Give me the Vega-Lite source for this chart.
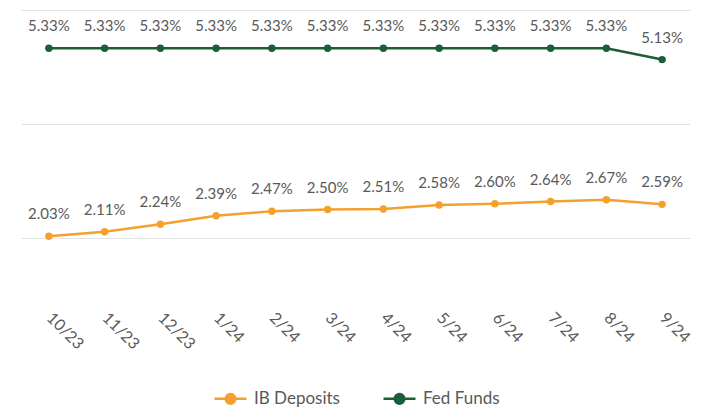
{
  "$schema": "https://vega.github.io/schema/vega-lite/v6.json",
  "width": 669,
  "height": 285,
  "autosize": "none",
  "padding": {"left": 21, "top": 10, "right": 11, "bottom": 115},
  "background": "white",
  "config": {"view": {"stroke": null}, "font": "Lato"},
  "data": {
    "values": [
      {"month": "10/23", "series": "IB Deposits", "rate": 0.0203},
      {"month": "11/23", "series": "IB Deposits", "rate": 0.0211},
      {"month": "12/23", "series": "IB Deposits", "rate": 0.0224},
      {"month": "1/24", "series": "IB Deposits", "rate": 0.0239},
      {"month": "2/24", "series": "IB Deposits", "rate": 0.0247},
      {"month": "3/24", "series": "IB Deposits", "rate": 0.0250},
      {"month": "4/24", "series": "IB Deposits", "rate": 0.0251},
      {"month": "5/24", "series": "IB Deposits", "rate": 0.0258},
      {"month": "6/24", "series": "IB Deposits", "rate": 0.0260},
      {"month": "7/24", "series": "IB Deposits", "rate": 0.0264},
      {"month": "8/24", "series": "IB Deposits", "rate": 0.0267},
      {"month": "9/24", "series": "IB Deposits", "rate": 0.0259},
      {"month": "10/23", "series": "Fed Funds", "rate": 0.0533},
      {"month": "11/23", "series": "Fed Funds", "rate": 0.0533},
      {"month": "12/23", "series": "Fed Funds", "rate": 0.0533},
      {"month": "1/24", "series": "Fed Funds", "rate": 0.0533},
      {"month": "2/24", "series": "Fed Funds", "rate": 0.0533},
      {"month": "3/24", "series": "Fed Funds", "rate": 0.0533},
      {"month": "4/24", "series": "Fed Funds", "rate": 0.0533},
      {"month": "5/24", "series": "Fed Funds", "rate": 0.0533},
      {"month": "6/24", "series": "Fed Funds", "rate": 0.0533},
      {"month": "7/24", "series": "Fed Funds", "rate": 0.0533},
      {"month": "8/24", "series": "Fed Funds", "rate": 0.0533},
      {"month": "9/24", "series": "Fed Funds", "rate": 0.0513}
    ]
  },
  "encoding": {
    "x": {
      "field": "month", "type": "nominal", "sort": null,
      "scale": {"type": "point", "padding": 0.5},
      "axis": {"title": null, "labelAngle": 45, "labelAlign": "left", "labelBaseline": "middle", "labelPadding": 20, "labelFontSize": 16, "labelColor": "#595959", "ticks": false, "domain": false, "grid": false}
    },
    "y": {
      "field": "rate", "type": "quantitative",
      "scale": {"domain": [0.01, 0.06], "nice": false, "zero": false},
      "axis": {"title": null, "labels": false, "ticks": false, "domain": false, "values": [0.02, 0.04, 0.06], "gridColor": "#e3e3e3", "gridWidth": 1}
    }
  },
  "layer": [
    {
      "mark": {"type": "line", "strokeWidth": 2.5, "point": {"size": 55, "filled": true}},
      "encoding": {
        "color": {
          "field": "series", "type": "nominal",
          "scale": {"domain": ["IB Deposits", "Fed Funds"], "range": ["#F4A02E", "#1B5E38"]},
          "legend": {
            "title": null, "orient": "none", "legendX": 192, "legendY": 371, "direction": "horizontal",
            "labelFontSize": 17, "labelColor": "#595959", "labelOffset": 6, "columnPadding": 38,
            "symbolType": "M-1,0H1M-0.3,0A0.3,0.3 0 1,0 0.3,0A0.3,0.3 0 1,0 -0.3,0",
            "symbolSize": 1024, "symbolStrokeWidth": 2.5,
            "encode": {"symbols": {"update": {"fill": {"scale": "color", "field": "value"}, "stroke": {"scale": "color", "field": "value"}}}}
          }
        }
      }
    },
    {
      "mark": {"type": "text", "dy": -17, "baseline": "alphabetic", "fontSize": 15, "color": "#595959"},
      "encoding": {"text": {"field": "rate", "type": "quantitative", "format": ".2%"}}
    }
  ]
}
